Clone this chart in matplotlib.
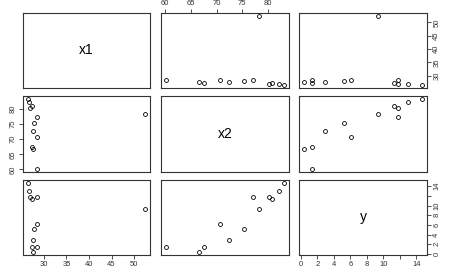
#!/usr/bin/env python

# python3

import matplotlib

matplotlib.use('Agg')

import matplotlib.pyplot as plt

x1 = [26.4, 26.7, 27.0, 27.3, 28.4, 52.5, 28.5, 27.9, 27.6, 27.3, 28.5, 27.6]
x2 = [83.2, 82.1, 80.3, 80.8, 77.2, 78.3, 70.6, 75.4, 72.5, 67.5, 60.1, 66.6]
y = [14.7, 13.0, 11.8, 11.3, 11.8, 9.3, 6.1, 5.25, 2.9, 1.4, 1.35, 0.35]

names = ['x1', 'x2', 'y']
ticks = {
    'x1': [30, 35, 40, 45, 50],
    'x2': [60, 65, 70, 75, 80],
    'y': [0, 2, 4, 6, 8, 10, 12, 14],
}
ticklabels = {
    'x1': ['30', '35', '40', '45', '50'],
    'x2': ['60', '65', '70', '75', '80'],
    'y': ['0', '2', '4', '6', '8', '10', '', '14'],
}

W, H = 461, 272
COLS = [(23, 150), (161, 289), (299, 427)]
ROWS = [(13, 88), (96, 172), (180, 255)]
FRAME = '#333333'


def limits(vals):
    lo, hi = min(vals), max(vals)
    pad = (hi - lo) * 0.04
    return lo - pad, hi + pad


def main():
    plt.rcParams['font.family'] = ['Liberation Sans', 'DejaVu Sans']
    data = {'x1': x1, 'x2': x2, 'y': y}

    fig = plt.figure(figsize=(W / 100, H / 100), dpi=100)

    for r, rname in enumerate(names):
        for c, cname in enumerate(names):
            left, right = COLS[c]
            top, bottom = ROWS[r]
            ax = fig.add_axes([left / W, 1 - bottom / H,
                               (right - left) / W, (bottom - top) / H])
            ax.set_xlim(limits(data[cname]))
            ax.set_ylim(limits(data[rname]))
            for sp in ax.spines.values():
                sp.set_color(FRAME)
                sp.set_linewidth(0.8)

            if r == c:
                ax.text(0.5, 0.5, rname, transform=ax.transAxes,
                        ha='center', va='center', fontsize=10)
            else:
                ax.plot(data[cname], data[rname], 'o', ls='none',
                        markersize=2.8, mfc='none', mec='black', mew=0.6)

            # x axis: alternate bottom / top like R pairs()
            ax.set_xticks(ticks[cname])
            ax.set_xticklabels(ticklabels[cname])
            xbottom = (r == 2 and c % 2 == 0)
            xtop = (r == 0 and c % 2 == 1)
            ax.tick_params(axis='x', bottom=xbottom, labelbottom=xbottom,
                           top=xtop, labeltop=xtop, length=3, width=0.6,
                           pad=1.5, labelsize=5.5, colors=FRAME)

            # y axis: alternate right / left
            ax.set_yticks(ticks[rname])
            ax.set_yticklabels(ticklabels[rname])
            yleft = (c == 0 and r % 2 == 1)
            yright = (c == 2 and r % 2 == 0)
            ax.tick_params(axis='y', left=yleft, labelleft=yleft,
                           right=yright, labelright=yright, length=3,
                           width=0.6, pad=1.5, labelsize=5.5, colors=FRAME)
            for lbl in ax.get_yticklabels():
                lbl.set_rotation(90)
                lbl.set_va('center')

    fig.savefig('out.png', dpi=100)


if __name__ == "__main__":
    main()
